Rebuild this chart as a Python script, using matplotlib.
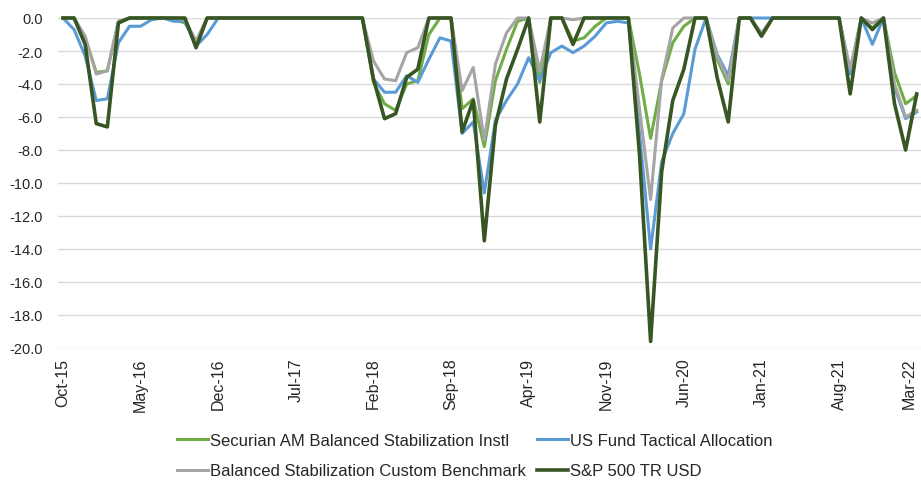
import matplotlib
matplotlib.use("Agg")
import matplotlib.pyplot as plt
import numpy as np
import pandas as pd

# ---- data -------------------------------------------------------------
dates = pd.date_range("2015-10-01", periods=78, freq="MS")
labels = [d.strftime("%b-%y") for d in dates]

series_names = [
    "Securian AM Balanced Stabilization Instl",
    "US Fund Tactical Allocation",
    "Balanced Stabilization Custom Benchmark",
    "S&P 500 TR USD",
]

securian = [
    0, 0, -1.2, -3.3, -3.2, -0.2, 0, 0, 0, 0, -0.1, -0.3, -1.5, 0, 0,
    0, 0, 0, 0, 0, 0, 0, 0, 0, 0, 0, 0, 0,
    -3.9, -5.2, -5.6, -4.0, -3.8, -1.0, 0, 0,
    -5.5, -4.9, -7.8, -3.8, -1.9, -0.2, 0, -3.9, 0, 0, -1.4, -1.2, -0.5, 0, 0, 0,
    -3.4, -7.3, -3.8, -1.5, -0.5, 0, 0, -2.5, -4.0, 0, 0, -1.1,
    0, 0, 0, 0, 0, 0, 0, -3.3, 0, -0.6, 0, -3.3, -5.2, -4.7,
]

us_fund = [
    0, -0.7, -2.3, -5.0, -4.9, -1.5, -0.5, -0.5, -0.1, 0, -0.2, -0.2, -1.7, -1.0, 0,
    0, 0, 0, 0, 0, 0, 0, 0, 0, 0, 0, 0, 0,
    -3.7, -4.5, -4.5, -3.5, -3.9, -2.5, -1.2, -1.4,
    -7.0, -6.3, -10.6, -6.2, -5.0, -4.0, -2.4, -3.8, -2.1, -1.7, -2.1, -1.7, -1.1, -0.3, -0.2, -0.3,
    -7.0, -14.0, -8.7, -7.0, -5.8, -1.9, 0, -2.2, -3.5, 0, 0, 0,
    0, 0, 0, 0, 0, 0, 0, -3.4, 0, -1.6, 0, -4.2, -6.1, -5.7,
]

benchmark = [
    0, 0, -1.1, -3.4, -3.2, -0.2, 0, 0, 0, 0, 0, -0.1, -1.4, 0, 0,
    0, 0, 0, 0, 0, 0, 0, 0, 0, 0, 0, 0, 0,
    -2.6, -3.7, -3.8, -2.1, -1.8, 0, 0, 0,
    -4.4, -3.0, -7.4, -2.8, -0.9, 0, 0, -3.2, 0, 0, -0.1, 0, 0, 0, 0, 0,
    -5.5, -11.0, -3.7, -0.6, 0, 0, 0, -2.3, -3.8, 0, 0, -0.9,
    0, 0, 0, 0, 0, 0, 0, -3.1, 0, -0.3, 0, -4.0, -6.0, -5.6,
]

sp500 = [
    0, 0, -1.6, -6.4, -6.6, -0.3, 0, 0, 0, 0, 0, 0, -1.8, 0, 0,
    0, 0, 0, 0, 0, 0, 0, 0, 0, 0, 0, 0, 0,
    -3.7, -6.1, -5.8, -3.6, -3.1, 0, 0, 0,
    -6.9, -5.0, -13.5, -6.5, -3.7, -1.9, 0, -6.3, 0, 0, -1.6, 0, 0, 0, 0, 0,
    -8.3, -19.6, -9.3, -5.0, -3.1, 0, 0, -3.6, -6.3, 0, 0, -1.1,
    0, 0, 0, 0, 0, 0, 0, -4.6, 0, -0.7, 0, -5.2, -8.0, -4.6,
]

yticks = [0, -2, -4, -6, -8, -10, -12, -14, -16, -18, -20]

# ---- styling ----------------------------------------------------------
colors = ["#70AD47", "#5B9BD5", "#A5A5A5", "#375623"]
widths = [2.2, 2.2, 2.2, 2.6]
plt.rcParams["font.family"] = ["Liberation Sans", "DejaVu Sans"]

W, H = 921, 481
fig = plt.figure(figsize=(W / 100, H / 100), dpi=100)
left_px, right_px, top_px, bot_px = 58, 921, 19, 349
ax = fig.add_axes([left_px / W, 1 - bot_px / H, (right_px - left_px) / W,
                   (bot_px - top_px) / H])

x = np.arange(len(labels))
all_series = [securian, us_fund, benchmark, sp500]
handles = []
for i, (vals, c, lw, name) in enumerate(zip(all_series, colors, widths, series_names)):
    (ln,) = ax.plot(x, vals, color=c, lw=lw, label=name, clip_on=False,
                    zorder=3 + i, solid_joinstyle="round")
    handles.append(ln)

step = 11.087
ax.set_xlim(-(63 - left_px) / step, 77 + (right_px - 916.7) / step)
ax.set_ylim(-20, 0)

ax.set_yticks(yticks)
ax.set_yticklabels([f"{v:.1f}" for v in yticks], fontsize=10.5, color="#262626")
ax.set_xticks(x[::7])
xt = ax.set_xticklabels(labels[::7], rotation=90, fontsize=11.5, color="#262626")
xt[-1].set_horizontalalignment("right")
ax.tick_params(axis="y", length=0, pad=11)
ax.tick_params(axis="x", length=0, pad=7)

ax.grid(axis="y", color="#D9D9D9", lw=1.0)
ax.set_axisbelow(True)
for s in ax.spines.values():
    s.set_visible(False)

# legend filled row-wise (matplotlib fills column-wise, so reorder)
order = [0, 2, 1, 3]
leg = fig.legend([handles[k] for k in order], [series_names[k] for k in order],
                 ncol=2, loc="upper left",
                 bbox_to_anchor=(177 / W, 1 - 434 / H), frameon=False,
                 handlelength=1.85, handletextpad=0.12,
                 columnspacing=0.7, labelspacing=0.93, borderpad=0,
                 borderaxespad=0, prop={"size": 12})
for t in leg.get_texts():
    t.set_color("#262626")

fig.savefig("out.png", dpi=100)
